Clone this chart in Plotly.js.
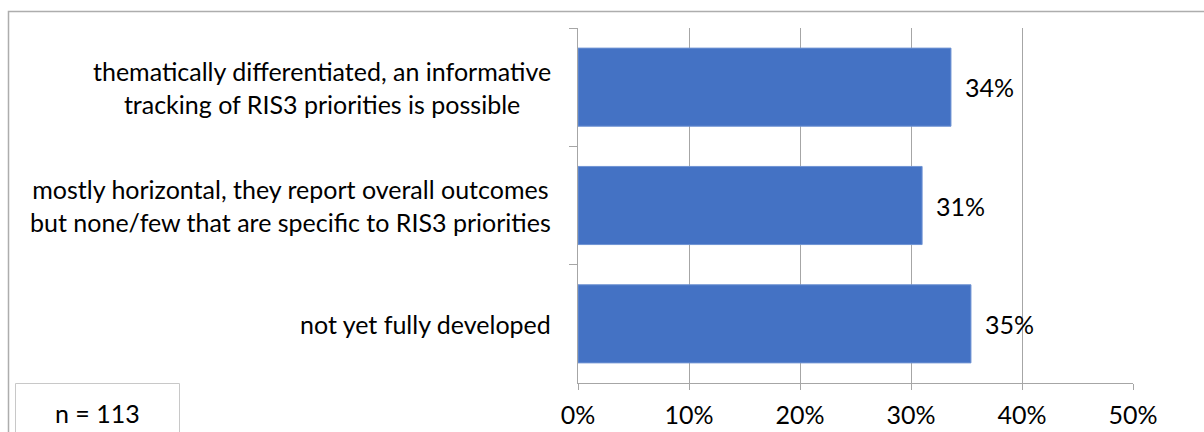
<!DOCTYPE html>
<html>
<head>
<meta charset="utf-8">
<script src="https://cdn.plot.ly/plotly-3.0.1.min.js"></script>
<style>html,body{margin:0;padding:0;background:#fff;}#chart{width:1204px;height:432px;}</style>
</head>
<body>
<div id="chart"></div>
<script>
const categories = [
  "thematically differentiated, an informative<br>tracking of RIS3 priorities is possible",
  "mostly horizontal, they report overall outcomes<br>but none/few that are specific to RIS3 priorities",
  "not yet fully developed"
];
const values = [33.6, 31.0, 35.4];
const valueLabels = ["34%", "31%", "35%"];
const xTickVals = [0, 10, 20, 30, 40, 50];
const xTickText = ["0%", "10%", "20%", "30%", "40%", "50%"];
const noteText = "n = 113";

const FONT = "Lato, 'Open Sans', sans-serif";
const W = 1204, H = 432;
const L = 578, R = 1133, T = 28, B = 383;
const px = x => (x - L) / (R - L);
const py = y => (B - y) / (B - T);

const trace = {
  type: "bar",
  orientation: "h",
  y: categories,
  x: values,
  marker: {color: "#4472C4", line: {color: "#6f93d3", width: 1}},
  hoverinfo: "skip",
  width: 0.66
};

const annotations = [];
categories.forEach((c, i) => {
  annotations.push({
    xref: "paper", yref: "y", x: px(553), y: c,
    text: c, showarrow: false, xanchor: "right", yanchor: "middle", align: "center",
    font: {family: FONT, size: 25, color: "#000"}
  });
  annotations.push({
    xref: "x", yref: "y", x: values[i], y: c,
    text: valueLabels[i], showarrow: false, xanchor: "left", yanchor: "middle",
    xshift: 12, font: {family: FONT, size: 25, color: "#000"}
  });
});
annotations.push({
  xref: "paper", yref: "paper", x: px(97), y: py(413),
  text: noteText, showarrow: false, xanchor: "center", yanchor: "middle",
  font: {family: FONT, size: 25, color: "#000"}
});

const layout = {
  width: W, height: H,
  margin: {l: L, r: W - R, t: T, b: H - B, pad: 0},
  paper_bgcolor: "#fff", plot_bgcolor: "#fff",
  showlegend: false,
  xaxis: {
    range: [0, 50], tickvals: xTickVals, ticktext: xTickText,
    showgrid: true, gridcolor: "#a6a6a6", gridwidth: 1,
    zeroline: false, showline: true, linecolor: "#a6a6a6", linewidth: 1,
    ticks: "outside", ticklen: 6, tickcolor: "#a6a6a6",
    ticklabelstandoff: 4,
    tickfont: {family: FONT, size: 25, color: "#000"},
    fixedrange: true
  },
  yaxis: {
    type: "category", autorange: "reversed",
    showticklabels: false, showgrid: false, zeroline: false,
    showline: true, linecolor: "#a6a6a6", linewidth: 1,
    ticks: "outside", tickson: "boundaries", ticklen: 8, tickcolor: "#a6a6a6",
    fixedrange: true
  },
  annotations: annotations,
  shapes: [
    {type: "rect", xref: "paper", yref: "paper",
     x0: px(8.5), x1: px(1215), y0: py(445), y1: py(11.5),
     line: {color: "#adadad", width: 1.5}, fillcolor: "rgba(0,0,0,0)", layer: "below"},
    {type: "rect", xref: "paper", yref: "paper",
     x0: px(15.5), x1: px(179.5), y0: py(445), y1: py(383.5),
     line: {color: "#c8c8c8", width: 1}, fillcolor: "rgba(0,0,0,0)", layer: "below"}
  ]
};

Plotly.newPlot("chart", [trace], layout, {staticPlot: true, displayModeBar: false});
</script>
</body>
</html>
